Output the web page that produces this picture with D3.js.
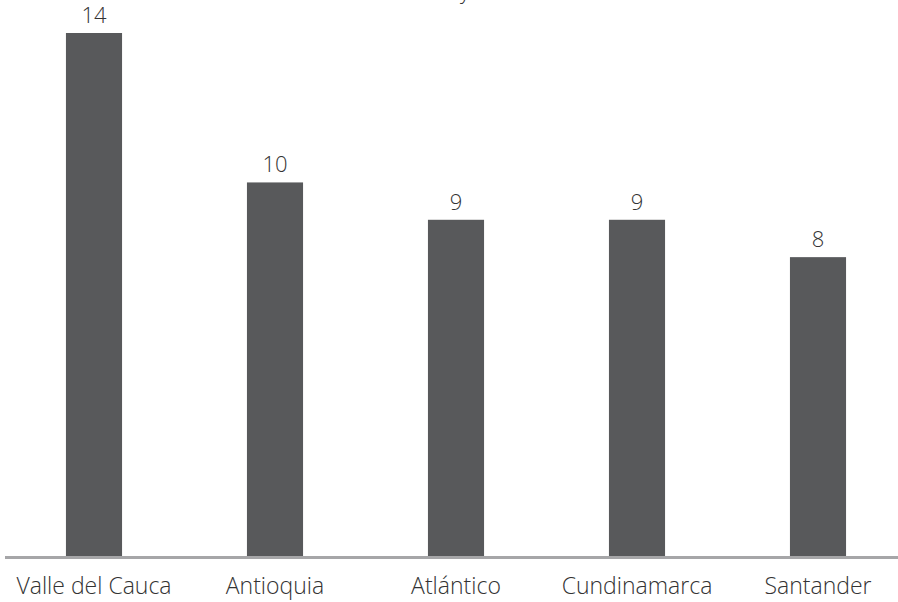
<!DOCTYPE html>
<html><head><meta charset="utf-8">
<script src="https://cdn.jsdelivr.net/npm/d3@7"></script>
<style>body{margin:0;background:#fff;overflow:hidden}svg{display:block}</style>
</head><body><div id="chart"></div>
<script>
const categories = ["Valle del Cauca","Antioquia","Atlántico","Cundinamarca","Santander"];
const values = [14,10,9,9,8];
const titleFragment = "y";

const W=898,H=602;
const svg=d3.select("#chart").append("svg").attr("width",W).attr("height",H);
const x=d3.scaleBand().domain(categories).range([3.5,908.5]).paddingInner(0.69).paddingOuter(0.345);
const y=d3.scaleLinear().domain([0,14]).range([556,33]);
const font="'Open Sans', sans-serif";

svg.append("text").attr("x",465).attr("y",-1).attr("text-anchor","middle")
  .attr("font-family",font).attr("font-size",22).attr("font-weight",300).attr("fill","#333").text(titleFragment);

svg.selectAll("rect.bar").data(values).join("rect").attr("class","bar")
  .attr("x",(d,i)=>x(categories[i])).attr("width",x.bandwidth())
  .attr("y",d=>y(d)).attr("height",d=>y(0)-y(d)).attr("fill","#58595b");

svg.selectAll("text.val").data(values).join("text").attr("class","val")
  .attr("x",(d,i)=>x(categories[i])+x.bandwidth()/2).attr("y",d=>y(d)-10)
  .attr("text-anchor","middle").attr("font-family",font).attr("font-size",22).attr("font-weight",300)
  .attr("fill","#333").text(d=>d);

const axis=d3.axisBottom(x).tickSize(0).tickPadding(22);
const g=svg.append("g").attr("transform","translate(0,556)").call(axis);
g.select(".domain").attr("d","M5,1.5H898").attr("stroke","#a6a6a8").attr("stroke-width",3);
g.selectAll("text").attr("font-family",font).attr("font-size",23).attr("font-weight",300).attr("fill","#333");
</script></body></html>
